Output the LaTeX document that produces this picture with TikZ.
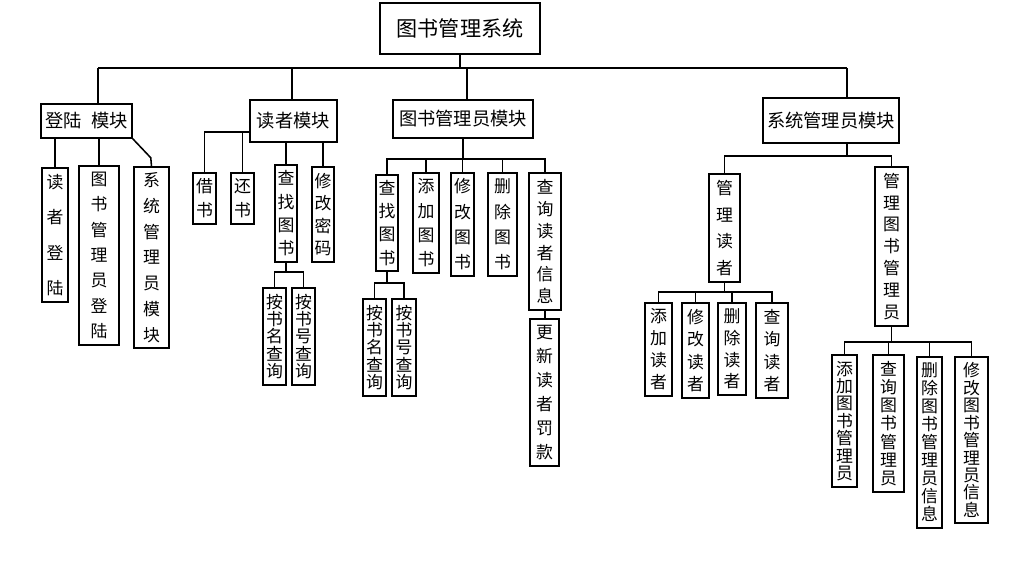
\documentclass[tikz,border=0pt]{standalone}
\usepackage{fontspec}
\setmainfont{Noto Sans CJK SC}
\tikzset{
  sz/.style 2 args={minimum width=#1*0.025cm,minimum height=#2*0.025cm},
  unit/.style={draw,line width=1.1pt,inner sep=0pt,font=\fontsize{13}{15}\selectfont},
  leaf/.style={draw,line width=1.1pt,inner sep=0pt,align=center,font=\fontsize{12}{#1}\selectfont},
  link/.style={line width=1.1pt}
}

\begin{document}
\begin{tikzpicture}[x=0.025cm,y=-0.025cm]
    \useasboundingbox (0,0) rectangle (1021,575);
    \node[unit,font=\fontsize{15}{18}\selectfont,sz={160}{51}] (root) at (460,28.5) {图书管理系统};
    \node[unit,sz={91}{34}] (login) at (86.5,121) {登陆\enspace 模块};
    \node[unit,sz={87}{42}] (reader) at (293.5,121) {读者模块};
    \node[unit,sz={140}{38}] (libadm) at (463,119) {图书管理员模块};
    \node[unit,sz={136}{45}] (sysadm) at (831,120.5) {系统管理员模块};
    \node[leaf=25,sz={26}{134}] (rlogin) at (55,235) {读\\者\\登\\陆};
    \node[leaf=18,sz={40}{179}] (alogin) at (99,255.5) {图\\书\\管\\理\\员\\登\\陆};
    \node[leaf=18.3,sz={35}{181}] (slogin) at (151.5,257.5) {系\\统\\管\\理\\员\\模\\块};
    \node[leaf=17,sz={23}{51}] (borrow) at (204.5,198.5) {借\\书};
    \node[leaf=17,sz={23}{51}] (return) at (242.5,198.5) {还\\书};
    \node[leaf=16.6,sz={22}{97}] (rsearch) at (286,213.5) {查\\找\\图\\书};
    \node[leaf=16,sz={22}{95}] (passwd) at (323,214.5) {修\\改\\密\\码};
    \node[leaf=12.4,sz={23}{97}] (rbyname) at (274.5,336.5) {按\\书\\名\\查\\询};
    \node[leaf=12.4,sz={23}{97}] (rbynum) at (303.5,336.5) {按\\书\\号\\查\\询};
    \node[leaf=16.4,sz={22}{96}] (asearch) at (387,223) {查\\找\\图\\书};
    \node[leaf=17.3,sz={26}{100}] (add) at (426,223) {添\\加\\图\\书};
    \node[leaf=18,sz={23}{103}] (modify) at (462.5,224.5) {修\\改\\图\\书};
    \node[leaf=18,sz={29}{103}] (delete) at (502.5,224.5) {删\\除\\图\\书};
    \node[leaf=15.6,sz={32}{137}] (query) at (545,241.5) {查\\询\\读\\者\\信\\息};
    \node[leaf=17,sz={29}{147}] (fine) at (544.5,392.5) {更\\新\\读\\者\\罚\\款};
    \node[leaf=12.4,sz={23}{97}] (abyname) at (374.5,347.5) {按\\书\\名\\查\\询};
    \node[leaf=12.4,sz={24}{97}] (abynum) at (404,347.5) {按\\书\\号\\查\\询};
    \node[leaf=19,sz={31}{108}] (mreader) at (724.5,228) {管\\理\\读\\者};
    \node[leaf=15.6,sz={33}{159}] (mlib) at (891.5,246.5) {管\\理\\图\\书\\管\\理\\员};
    \node[leaf=15.6,sz={27}{93}] (radd) at (658.5,349.5) {添\\加\\读\\者};
    \node[leaf=16,sz={27}{95}] (rmod) at (695.5,350.5) {修\\改\\读\\者};
    \node[leaf=15.4,sz={28}{92}] (rdel) at (732,349) {删\\除\\读\\者};
    \node[leaf=16,sz={32}{95}] (rqry) at (772,350.5) {查\\询\\读\\者};
    \node[leaf=12.4,sz={25}{132}] (ladd) at (844.5,421) {添\\加\\图\\书\\管\\理\\员};
    \node[leaf=13,sz={31}{137}] (lqry) at (888.5,423.5) {查\\询\\图\\书\\管\\理\\员};
    \node[leaf=12.8,sz={25}{171}] (ldel) at (929.5,442.5) {删\\除\\图\\书\\管\\理\\员\\信\\息};
    \node[leaf=12.4,sz={33}{166}] (lmod) at (971.5,440) {修\\改\\图\\书\\管\\理\\员\\信\\息};
    \coordinate (b1) at (98,68);
    \coordinate (b2) at (292,68);
    \coordinate (b3) at (467,68);
    \coordinate (b4) at (847,68);
    \draw[link] (root.south) -- (root.south |- b1);
    \draw[link] (b1) -- (b4);
    \foreach \b/\n in {b1/login,b2/reader,b3/libadm,b4/sysadm}
      \draw[link] (\b) -- (\b |- \n.north);
    \draw[link] (login.south -| rlogin.north) -- (rlogin.north);
    \draw[link] (login.south -| alogin.north) -- (alogin.north);
    \draw[link] (login.south east) -- ++(18,19) -- (slogin.north);
    \coordinate (rl) at (250,132);
    \draw[link] (rl) -| (borrow.north);
    \draw[link] (rl -| return.north) -- (return.north);
    \draw[link] (reader.south -| rsearch.north) -- (rsearch.north);
    \draw[link] (reader.south -| passwd.north) -- (passwd.north);
    \coordinate (rj) at (288,272);
    \draw[link] (rsearch.south) -- (rsearch.south |- rj);
    \draw[link] (rbyname.north) |- (rj) -| (rbynum.north);
    \coordinate (aj) at (467,159);
    \draw[link] (libadm.south) -- (libadm.south |- aj);
    \draw[link] (asearch.north) |- (aj) -| (query.north);
    \foreach \n in {add,modify,delete}
      \draw[link] (\n.north) -- (\n.north |- aj);
    \coordinate (sj) at (388,283);
    \draw[link] (asearch.south) -- (asearch.south |- sj);
    \draw[link] (abyname.north) |- (sj) -| (abynum.north);
    \draw[link] (query.south) -- (query.south |- fine.north);
    \coordinate (yj) at (847,156);
    \draw[link] (b4 |- sysadm.south) -- (yj);
    \draw[link] (mreader.north) |- (yj) -| (mlib.north);
    \coordinate (mj) at (724,292);
    \draw[link] (mreader.south) -- (mreader.south |- mj);
    \draw[link] (radd.north) |- (mj) -| (rqry.north);
    \foreach \n in {rmod,rdel}
      \draw[link] (\n.north) -- (\n.north |- mj);
    \coordinate (lj) at (891,342);
    \draw[link] (mlib.south) -- (mlib.south |- lj);
    \draw[link] (ladd.north) |- (lj) -| (lmod.north);
    \foreach \n in {lqry,ldel}
      \draw[link] (\n.north) -- (\n.north |- lj);
  \end{tikzpicture}
\end{document}
